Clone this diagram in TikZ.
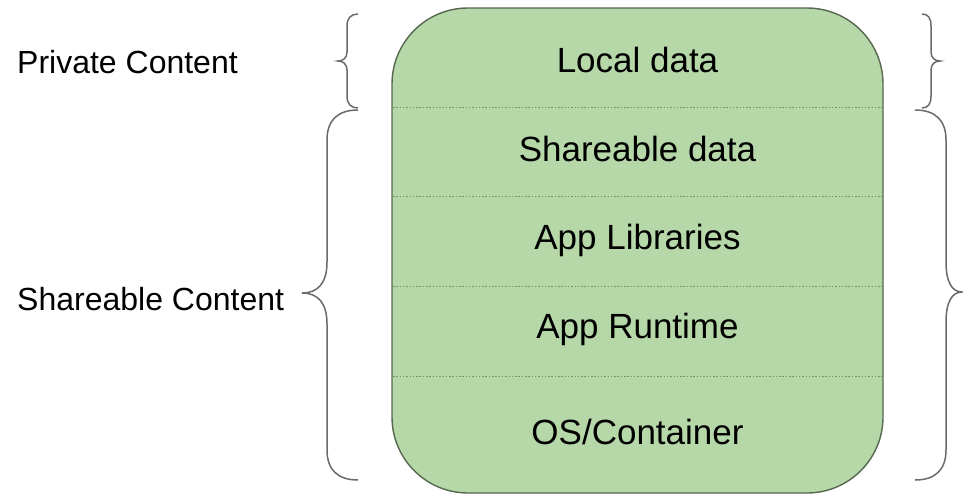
\documentclass[tikz,border=0pt]{standalone}
\usepackage{fontspec}
\setmainfont{Liberation Sans}
\definecolor{layerfill}{HTML}{B6D7A8}
\definecolor{layerline}{HTML}{56684F}
\definecolor{sepline}{HTML}{6E9A60}
\definecolor{bracegray}{HTML}{6A6A6A}
\begin{document}
\begin{tikzpicture}[x=1pt,y=-1pt,
  stack/.style={draw=layerline, line width=1.4pt, fill=layerfill, rounded corners=76pt,
    minimum width=491pt, minimum height=485pt, inner sep=0pt},
  layer/.style={font=\fontsize{35}{42}\selectfont, text=black, inner sep=0pt, anchor=center},
  side/.style={font=\fontsize{32}{38}\selectfont, text=black, inner sep=0pt, anchor=west},
  divider/.style={draw=sepline, line width=1pt, dash pattern=on 1.5pt off 1.8pt},
  bracecurve/.style={draw=bracegray, line width=1.5pt}]
\useasboundingbox (0,0) rectangle (963,495);

% layered stack
\node[stack] (stack) at (637.5,250.5) {};
\foreach \y/\n in {107/s1,196/s2,286/s3,376/s4}{
  \coordinate (\n w) at (393,\y);
  \coordinate (\n e) at (882,\y);
  \draw[divider] (\n w) -- (\n e);
}
\node[layer] (local) at (637.5,60) {Local data};
\node[layer] (share) at (637.5,149) {Shareable data};
\node[layer] (libs) at (637.5,240) {App Libraries};
\node[layer] (rt) at (637.5,329) {App Runtime};
\node[layer] (os) at (637.5,432) {OS/Container};

% side labels
\node[side] (priv) at (17,62) {Private Content};
\node[side] (shc) at (17,299) {Shareable Content};

% left braces
\draw[bracecurve] (358,14) .. controls (351,14) and (347,18) .. (347,26) -- (347,52)
  .. controls (347,58) and (343,61) .. (338,61) .. controls (343,61) and (347,64) .. (347,70)
  -- (347,96) .. controls (347,104) and (351,108) .. (358,108);
\draw[bracecurve] (358,110) .. controls (338,110) and (327,120) .. (327,140) -- (327,262)
  .. controls (327,283) and (318,293) .. (302,293) .. controls (318,293) and (327,303) .. (327,324)
  -- (327,450) .. controls (327,470) and (338,480) .. (358,480);

% right braces
\draw[bracecurve] (922,14) .. controls (928,14) and (931,18) .. (931,26) -- (931,52)
  .. controls (931,58) and (935,61) .. (940,61) .. controls (935,61) and (931,64) .. (931,70)
  -- (931,96) .. controls (931,104) and (928,108) .. (922,108);
\draw[bracecurve] (915,110) .. controls (935,110) and (946,120) .. (946,140) -- (946,262)
  .. controls (946,282) and (952,292) .. (962,292) .. controls (952,292) and (946,302) .. (946,322)
  -- (946,450) .. controls (946,470) and (935,480) .. (915,480);
\end{tikzpicture}
\end{document}
